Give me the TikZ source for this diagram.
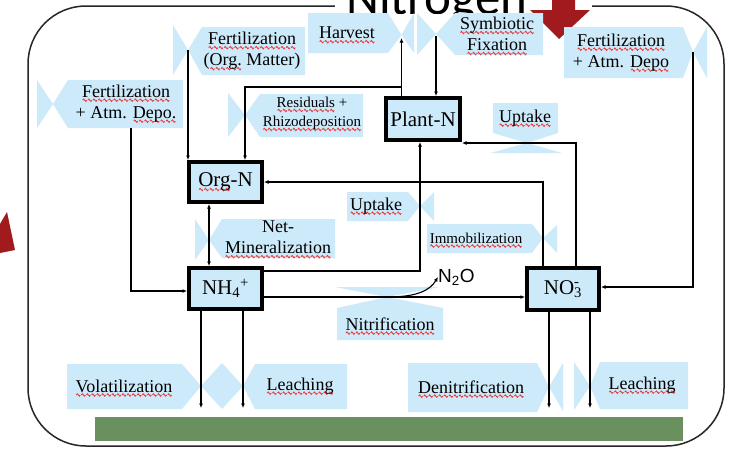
\documentclass[tikz,border=0pt]{standalone}
\usepackage{fontspec}
\setmainfont{Liberation Serif}
\newfontfamily\sansf{Liberation Sans}
\newfontfamily\titlef{Carlito}
\usetikzlibrary{arrows.meta}
\definecolor{lb}{RGB}{205,234,250}
\definecolor{grn}{RGB}{106,144,96}
\definecolor{rd}{RGB}{160,26,30}
\definecolor{sqred}{RGB}{235,60,60}
\newsavebox\wavebox
\sbox\wavebox{\tikz[x=1pt,y=1pt]\draw[sqred,line width=0.9pt] (0,0) sin (1,1.2) cos (2,0) sin (3,-1.2) cos (4,0);}
\newsavebox\sqbox
\newcommand\sq[1]{\sbox\sqbox{#1}\leavevmode\rlap{\raisebox{-4.5pt}[0pt][0pt]{\hbox to \wd\sqbox{\xleaders\copy\wavebox\hfill}}}\usebox\sqbox}
\begin{document}
\begin{tikzpicture}[x=1pt,y=-1pt,
  conn/.style={draw=black, line width=1.1pt, -{Latex[length=4.5pt,width=4pt]}},
  conntwo/.style={draw=black, line width=1.1pt, {Latex[length=4.5pt,width=4pt]}-{Latex[length=4.5pt,width=4pt]}},
  lbl/.style={align=center, inner sep=0pt, font=\fontsize{18}{21}\selectfont},
  lbls/.style={align=center, inner sep=0pt, font=\fontsize{15}{19}\selectfont},
  bx/.style={draw=black, line width=4pt, fill=lb, inner sep=0pt, font=\fontsize{21}{24}\selectfont},
  shp/.style={fill=lb}]
\useasboundingbox (0,0) rectangle (738,448);
\clip (0,0) rectangle (738,448);
\fill[white] (0,0) rectangle (738,448);
% outer frame
\draw[line width=1.5pt, draw=black!85, rounded corners=58pt] (28,6) rectangle (724,446);
% title (its lower part hidden) and red arrows
\fill[white] (335,0) rectangle (592,13);
\begin{scope}
\clip (335,0) rectangle (592,13);
\node[anchor=base west, inner sep=0pt, font=\titlef\fontsize{51}{51}\selectfont] (title) at (346,14) {Nitrogen};
\end{scope}
\fill[rd] (552,0) -- (575,0) -- (575,10) -- (590,10) -- (559,39) -- (530,10) -- (552,10) -- cycle;
\fill[rd] (0,224) -- (7,212) -- (15,250) -- (0,253) -- cycle;
% green soil bar
\fill[grn] (95,417) rectangle (683,441);
% label shapes
\fill[shp] (37,80) -- (37,128) -- (53,104) -- cycle;
\fill[shp] (68,80) -- (183,80) -- (183,128) -- (68,128) -- (53,104) -- cycle;
\fill[shp] (173,25) -- (173,75) -- (188,50) -- cycle;
\fill[shp] (202,27) -- (305,27) -- (305,75) -- (202,75) -- (188,50) -- cycle;
\fill[shp] (308,13) -- (388,13) -- (401.5,35) -- (388,53) -- (308,53) -- cycle;
\fill[shp] (414,13) -- (414,53) -- (401.5,35) -- cycle;
\fill[shp] (417,13) -- (417,55) -- (436,34) -- cycle;
\fill[shp] (455,13) -- (543,13) -- (543,55) -- (455,55) -- (436,34) -- cycle;
\fill[shp] (564,27) -- (683,27) -- (693,52) -- (683,78) -- (564,78) -- cycle;
\fill[shp] (707,27) -- (707,78) -- (693,52) -- cycle;
\fill[shp] (228,93) -- (228,137) -- (245,115) -- cycle;
\fill[shp] (260,94) -- (363,94) -- (363,137) -- (260,137) -- (245,115) -- cycle;
\fill[shp] (493,103) -- (558,103) -- (558,133) -- (527,143) -- (493,133) -- cycle;
\fill[shp] (490,153) -- (562,153) -- (527,143) -- cycle;
\fill[shp] (347,192) -- (408,192) -- (420,206) -- (408,221) -- (347,221) -- cycle;
\fill[shp] (434,192) -- (434,221) -- (420,206) -- cycle;
\fill[shp] (427,224) -- (532,224) -- (543,238) -- (532,253) -- (427,253) -- cycle;
\fill[shp] (557,225) -- (557,253) -- (543,238) -- cycle;
\fill[shp] (195,219) -- (195,260) -- (209,240) -- cycle;
\fill[shp] (222,219) -- (335,219) -- (335,258) -- (222,258) -- (209,240) -- cycle;
\fill[shp] (335,287) -- (440,287) -- (387,297) -- cycle;
\fill[shp] (387,297) -- (443,308) -- (443,340) -- (337,340) -- (337,308) -- cycle;
\fill[shp] (67,364) -- (182,364) -- (201,386) -- (182,409) -- (67,409) -- cycle;
\fill[shp] (201,386) -- (222,363) -- (243,386) -- (222,409) -- cycle;
\fill[shp] (255,364) -- (347,364) -- (347,409) -- (255,409) -- (243,386) -- cycle;
\fill[shp] (408,363) -- (537,363) -- (549,387) -- (537,412) -- (408,412) -- cycle;
\fill[shp] (563,363) -- (563,411) -- (549,387) -- cycle;
\fill[shp] (574,362) -- (574,410) -- (590,386) -- cycle;
\fill[shp] (600,362) -- (688,362) -- (688,409) -- (600,409) -- (590,386) -- cycle;
% pool boxes
\node[bx, minimum width=73pt, minimum height=40pt] (OrgN) at (225.5,182) {\sq{Org}-N};
\node[bx, minimum width=74pt, minimum height=42pt] (PlantN) at (423,119) {Plant-N};
\node[bx, minimum width=73pt, minimum height=41pt] (NH) at (225.5,288.5) {NH\textsubscript{4}\textsuperscript{+}};
\node[bx, minimum width=72pt, minimum height=42pt] (NO) at (563,289) {NO\rlap{\textsuperscript{-}}\textsubscript{3}};
% labels
\node[lbl] (tFertL) at (126,103.5) {\sq{Fertilization}\\+ Atm. \sq{Depo.}};
\node[lbl] (tFertO) at (252,51) {\sq{Fertilization}\\(\sq{Org.} Matter)};
\node[lbl] (tHarv) at (347,33) {\sq{Harvest}};
\node[lbl] (tSym) at (497,34) {\sq{Symbiotic}\\\sq{Fixation}};
\node[lbl] (tFertR) at (621,52.5) {\sq{Fertilization}\\+ Atm. \sq{Depo}};
\node[lbls] (tRes) at (312,113.5) {\sq{Residuals} +\\\sq{Rhizodeposition}};
\node[lbl] (tUpT) at (525,118) {\sq{Uptake}};
\node[lbl] (tUpM) at (376,206) {\sq{Uptake}};
\node[lbl] (tNet) at (278,237.5) {Net-\\\sq{Mineralization}};
\node[lbls] (tImm) at (476,238) {\sq{Immobilization}};
\node[lbl] (tNit) at (390,324) {\sq{Nitrification}};
\node[lbl] (tVol) at (124,386) {\sq{Volatilization}};
\node[lbl] (tLeL) at (300,386) {\sq{Leaching}};
\node[lbl] (tDen) at (471,387) {\sq{Denitrification}};
\node[lbl] (tLeR) at (642,385) {\sq{Leaching}};
\node[anchor=base west, inner sep=0pt, font=\sansf\fontsize{19}{19}\selectfont] (N2O) at (438,282) {N\textsubscript{2}O};
% coordinates
\coordinate (wFL) at (131,128);
\coordinate (wFO) at (188,50);
\coordinate (jR) at (401.5,87);
\coordinate (wRes) at (245,115);
\coordinate (wHar) at (401.5,38);
\coordinate (wSym) at (436,36);
\coordinate (wFR) at (693,52);
\coordinate (xU) at (576,143);
\coordinate (wUM) at (420,206);
\coordinate (wIm) at (543,238);
\coordinate (wNM) at (209,240);
\coordinate (wNi) at (387,297);
\coordinate (nS) at ([yshift=-8.5pt]NH.east);
\coordinate (v1) at (201,408);
\coordinate (v2) at (243,408);
\coordinate (v3) at (549,408);
\coordinate (v4) at (590,408);
% connectors
\draw[conn] (wFL) |- ([yshift=-2.5pt]NH.west);
\draw[conn] (wFO) -- (wFO |- OrgN.north);
\draw[conn] (PlantN.north -| jR) -- (jR) -| (wRes |- OrgN.north);
\draw[conn] (PlantN.north -| wHar) -- (wHar);
\draw[conn] (wSym) -- (wSym |- PlantN.north);
\draw[conn] (wFR) |- ([yshift=2pt]NO.east);
\draw[conn] (NO.north -| xU) -- (xU) -- (xU -| PlantN.east);
\draw[conn] ([yshift=17.5pt]NH.east) -| (wUM) -- (wUM |- PlantN.south);
\draw[conn] (NO.north -| wIm) |- (OrgN.east);
\draw[conntwo] (wNM |- NH.north) -- (wNM |- OrgN.south);
\draw[conn] (nS) -- (nS -| NO.west);
\draw[conn] (wNi) .. controls (418,297) and (430,290) .. (N2O.west);
\draw[conn] (NH.south -| v1) -- (v1);
\draw[conn] (NH.south -| v2) -- (v2);
\draw[conn] (NO.south -| v3) -- (v3);
\draw[conn] (NO.south -| v4) -- (v4);
\end{tikzpicture}
\end{document}
